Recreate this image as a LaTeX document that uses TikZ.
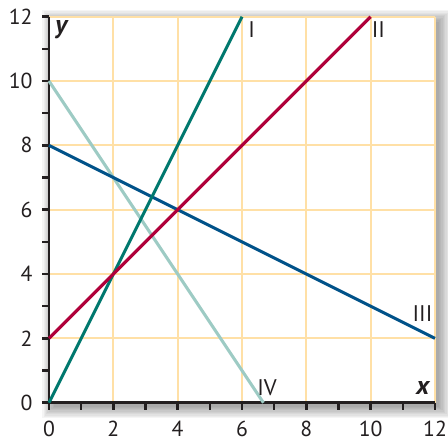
\documentclass[tikz,border=0pt]{standalone}
\usepackage{fontspec}
\setmainfont{PT Sans}
\definecolor{gridc}{HTML}{FFE0A6}
\definecolor{axisc}{HTML}{231F20}
\definecolor{lineI}{HTML}{00786E}
\definecolor{lineII}{HTML}{B0003A}
\definecolor{lineIII}{HTML}{005289}
\definecolor{lineIV}{HTML}{9DCBC4}
\tikzset{
  gridline/.style={draw=gridc,line width=0.9pt},
  axisline/.style={draw=axisc,line width=1.3pt},
  tickline/.style={draw=axisc,line width=1.1pt},
  graphline/.style={line width=1.35pt},
  ticklab/.style={font=\fontsize{9.6}{11}\selectfont,text=axisc,inner sep=0pt},
  romanlab/.style={font=\fontsize{10}{12}\selectfont,text=axisc,inner sep=0pt},
  axislab/.style={font=\fontsize{11.5}{13}\selectfont\bfseries\itshape,text=axisc,inner sep=0pt}
}
\begin{document}
\begin{tikzpicture}[x=0.5cm,y=0.5cm]
\useasboundingbox (-1.523,-1.128) rectangle (12.404,12.519);
% soft shadow
\foreach \d in {0.00,0.04,...,0.36}
  \fill[black,opacity=0.04] (0.15-\d,-0.12-\d) rectangle (12.12+\d,11.85+\d);
% panel
\fill[white] (0,0) rectangle (12,12);
\draw[gridline] (0,0) grid (12,12);
% axes
\coordinate (O) at (0,0);
\coordinate (ytop) at (0,12);
\coordinate (xend) at (12,0);
\draw[axisline] (ytop) -- (O) -- (xend);
\foreach \k in {0,...,12} {
  \draw[tickline] (0,\k) -- (-0.22,\k);
  \draw[tickline] (\k,0) -- (\k,-0.22);
}
\foreach \k in {0,2,...,12} {
  \node[ticklab,anchor=east] (yl\k) at (-0.5,\k) {\k};
  \node[ticklab] (xl\k) at (\k,-0.8) {\k};
}
\node[axislab] (ylab) at (0.38,11.6) {y};
\node[axislab] (xlab) at (11.62,0.47) {x};
% graph lines
\coordinate (IVa) at (0,10);
\coordinate (IVb) at (6.6667,0);
\coordinate (IIIa) at (0,8);
\coordinate (IIIb) at (12,2);
\coordinate (Ia) at (0,0);
\coordinate (Ib) at (6,12);
\coordinate (IIa) at (0,2);
\coordinate (IIb) at (10,12);
\draw[graphline,lineIV] (IVa) -- (IVb);
\draw[graphline,lineIII] (IIIa) -- (IIIb);
\draw[graphline,lineI] (Ia) -- (Ib);
\draw[graphline,lineII] (IIa) -- (IIb);
\node[romanlab] (labI) at (6.3,11.6) {I};
\node[romanlab] (labII) at (10.24,11.6) {II};
\node[romanlab] (labIII) at (11.61,2.76) {III};
\node[romanlab] (labIV) at (6.78,0.47) {IV};
\end{tikzpicture}
\end{document}
